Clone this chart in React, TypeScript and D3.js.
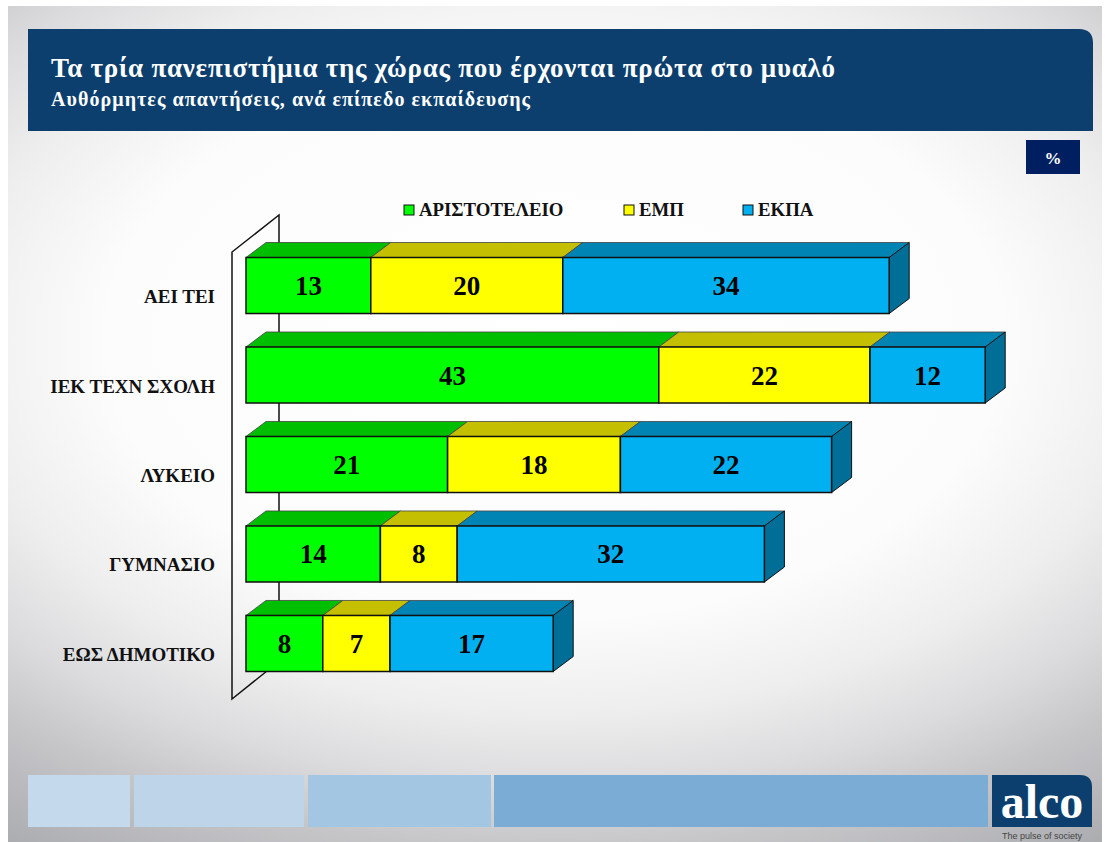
import React from "react";
import * as d3 from "d3";

const categories = ["ΑΕΙ ΤΕΙ", "ΙΕΚ ΤΕΧΝ ΣΧΟΛΗ", "ΛΥΚΕΙΟ", "ΓΥΜΝΑΣΙΟ", "ΕΩΣ ΔΗΜΟΤΙΚΟ"];
const seriesNames = ["ΑΡΙΣΤΟΤΕΛΕΙΟ", "ΕΜΠ", "ΕΚΠΑ"];
const aristotelio = [13, 43, 21, 14, 8];
const emp = [20, 22, 18, 8, 7];
const ekpa = [34, 12, 22, 32, 17];
const frontColors = ["#00ff00", "#ffff00", "#00b0f0"];
const topColors = ["#00bf00", "#c4bf00", "#0084b4"];
const sideColor = "#006e96";
const footerColors = ["#c4d9eb", "#bdd4e9", "#a3c6e3", "#7bacd5"];
const footerEdges = [[28, 130], [134, 304], [308, 491], [494, 988]];
const title = "Τα τρία πανεπιστήμια της χώρας που έρχονται πρώτα στο μυαλό";
const subtitle = "Αυθόρμητες απαντήσεις, ανά επίπεδο εκπαίδευσης";
const legendSquares = [404, 624, 743];

const serif = "'Liberation Serif', serif";
const ink = "#111";
const depthX = 20;
const depthY = -15;

const x = d3.scaleLinear().domain([0, 100]).range([246, 1206]);
const y = d3.scaleBand<string>().domain(categories).range([257.5, 671.5]).paddingInner(0.374).paddingOuter(0).align(0);

const rows = categories.map((c, i) => {
  const vals = [aristotelio[i], emp[i], ekpa[i]];
  const cum = d3.cumsum(vals);
  return { c, segs: vals.map((v, k) => ({ v, k, x0: x(cum[k] - v), x1: x(cum[k]) })) };
});

const pts = (p: number[][]) => p.map((q) => q.join(",")).join(" ");

export default function App() {
  const h = y.bandwidth();
  return (
    <svg width={1110} height={842} viewBox="0 0 1110 842" style={{ position: "absolute", left: 0, top: 0 }}>
      <defs>
        <radialGradient id="bg" gradientUnits="userSpaceOnUse" cx={0} cy={0} r={1} gradientTransform="translate(555 340) scale(1000 620)">
          <stop offset="0" stopColor="#ffffff" />
          <stop offset="0.45" stopColor="#fcfcfc" />
          <stop offset="0.6" stopColor="#eeeeef" />
          <stop offset="0.72" stopColor="#dbdbdd" />
          <stop offset="0.82" stopColor="#c6c6c9" />
          <stop offset="1" stopColor="#a8a9ad" />
        </radialGradient>
      </defs>
      <rect x={0} y={0} width={1110} height={842} fill="#ffffff" />
      <rect x={8} y={6} width={1094} height={836} fill="url(#bg)" />

      <path d="M28,29 H1079 Q1093,29 1093,43 V131 H28 Z" fill="#0c3f6e" />
      <text x={51} y={77} fill="#fff" fontFamily={serif} fontWeight={700} fontSize={27} textLength={784}>{title}</text>
      <text x={51} y={106} fill="#fff" fontFamily={serif} fontWeight={700} fontSize={20} textLength={479}>{subtitle}</text>
      <rect x={1026} y={140} width={54} height={34} fill="#001f60" />
      <text x={1053} y={164} fill="#fff" textAnchor="middle" fontFamily={serif} fontWeight={700} fontSize={17}>%</text>

      {seriesNames.map((s, i) => (
        <g key={s}>
          <rect x={legendSquares[i]} y={205} width={10} height={10} fill={frontColors[i]} stroke={ink} strokeWidth={1} />
          <text x={legendSquares[i] + 15} y={216} fill={ink} fontFamily={serif} fontWeight={700} fontSize={18.8}>{s}</text>
        </g>
      ))}

      <polyline points={pts([[267, 671], [232, 699], [232, 252], [279, 215], [279, 662]])} fill="none" stroke={ink} strokeWidth={1.5} />

      {rows.map((r) => {
        const top = y(r.c)!;
        const bottom = top + h;
        const end = r.segs[2].x1;
        return (
          <g key={r.c}>
            <text x={215} y={top + h / 2 + 17.5} textAnchor="end" fill={ink} fontFamily={serif} fontWeight={700} fontSize={19}>{r.c}</text>
            {r.segs.map((s) => (
              <polygon key={s.k} points={pts([[s.x0, top], [s.x0 + depthX, top + depthY], [s.x1 + depthX, top + depthY], [s.x1, top]])} fill={topColors[s.k]} stroke="#444" strokeWidth={0.8} />
            ))}
            <polygon points={pts([[end, top], [end + depthX, top + depthY], [end + depthX, bottom + depthY], [end, bottom]])} fill={sideColor} stroke={ink} strokeWidth={1} />
            {r.segs.map((s) => (
              <g key={s.k}>
                <rect x={s.x0} y={top} width={s.x1 - s.x0} height={h} fill={frontColors[s.k]} stroke={ink} strokeWidth={1.5} />
                <text x={(s.x0 + s.x1) / 2} y={top + h / 2 + 9.5} textAnchor="middle" fill="#000" fontFamily={serif} fontWeight={700} fontSize={27}>{s.v}</text>
              </g>
            ))}
          </g>
        );
      })}

      {footerEdges.map((e, i) => (
        <rect key={i} x={e[0]} y={775} width={e[1] - e[0]} height={52} fill={footerColors[i]} />
      ))}
      <path d="M992,775 H1080 Q1092,775 1092,787 V827 H992 Z" fill="#0c3f6e" />
      <text x={1042} y={818} fill="#fff" textAnchor="middle" fontFamily={serif} fontWeight={700} fontSize={48}>alco</text>
      <text x={1042} y={839} fill="#444" textAnchor="middle" fontFamily="'Liberation Sans', sans-serif" fontSize={9}>The pulse of society</text>
    </svg>
  );
}
